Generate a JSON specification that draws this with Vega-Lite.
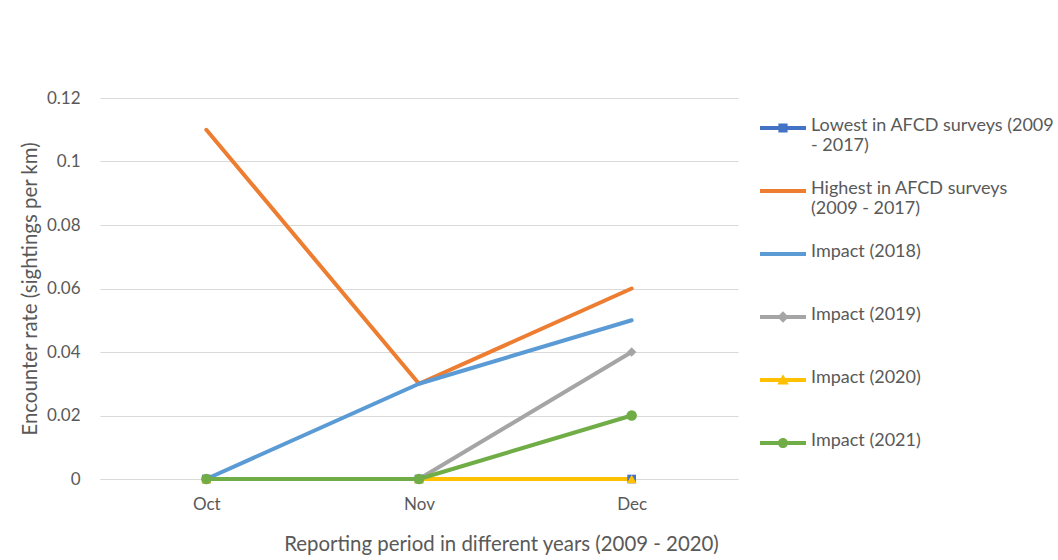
{
  "$schema": "https://vega.github.io/schema/vega-lite/v6.json",
  "autosize": "none",
  "width": 638,
  "height": 381,
  "padding": {"left": 100, "top": 98, "right": 320, "bottom": 81},
  "background": "white",
  "config": {
    "view": {"stroke": null},
    "font": "Lato",
    "axis": {"labelFont": "Lato", "titleFont": "Lato", "labelColor": "#595959", "titleColor": "#595959", "labelFontSize": 17, "titleFontSize": 20.4, "titleFontWeight": "normal"}
  },
  "data": {
    "values": [
      {"series": "Lowest in AFCD surveys (2009 - 2017)", "month": "Oct", "value": 0},
      {"series": "Lowest in AFCD surveys (2009 - 2017)", "month": "Nov", "value": 0},
      {"series": "Lowest in AFCD surveys (2009 - 2017)", "month": "Dec", "value": 0},
      {"series": "Highest in AFCD surveys (2009 - 2017)", "month": "Oct", "value": 0.11},
      {"series": "Highest in AFCD surveys (2009 - 2017)", "month": "Nov", "value": 0.03},
      {"series": "Highest in AFCD surveys (2009 - 2017)", "month": "Dec", "value": 0.06},
      {"series": "Impact (2018)", "month": "Oct", "value": 0},
      {"series": "Impact (2018)", "month": "Nov", "value": 0.03},
      {"series": "Impact (2018)", "month": "Dec", "value": 0.05},
      {"series": "Impact (2019)", "month": "Oct", "value": 0},
      {"series": "Impact (2019)", "month": "Nov", "value": 0},
      {"series": "Impact (2019)", "month": "Dec", "value": 0.04},
      {"series": "Impact (2020)", "month": "Oct", "value": 0},
      {"series": "Impact (2020)", "month": "Nov", "value": 0},
      {"series": "Impact (2020)", "month": "Dec", "value": 0},
      {"series": "Impact (2021)", "month": "Oct", "value": 0},
      {"series": "Impact (2021)", "month": "Nov", "value": 0},
      {"series": "Impact (2021)", "month": "Dec", "value": 0.02}
    ]
  },
  "encoding": {
    "x": {
      "field": "month", "type": "nominal", "sort": ["Oct", "Nov", "Dec"],
      "scale": {"type": "point", "padding": 0.5},
      "axis": {
        "title": "Reporting period in different years (2009 - 2020)",
        "labelAngle": 0, "ticks": false, "grid": false,
        "domainColor": "#D9D9D9", "domainWidth": 1,
        "labelPadding": 17,
        "titleX": 401, "titleY": 55, "titleAlign": "center", "titleAnchor": null
      }
    },
    "y": {
      "field": "value", "type": "quantitative",
      "scale": {"domain": [0, 0.12], "nice": false},
      "axis": {
        "title": "Encounter rate (sightings per km)",
        "values": [0, 0.02, 0.04, 0.06, 0.08, 0.1, 0.12],
        "labelExpr": "datum.value == 0 ? '0' : format(datum.value, '.2~f')",
        "domain": false, "ticks": false, "gridColor": "#D9D9D9", "gridWidth": 1,
        "labelPadding": 20, "titleX": -70, "titleBaseline": "middle"
      }
    },
    "color": {
      "field": "series", "type": "nominal",
      "scale": {
        "domain": ["Lowest in AFCD surveys (2009 - 2017)", "Highest in AFCD surveys (2009 - 2017)", "Impact (2018)", "Impact (2019)", "Impact (2020)", "Impact (2021)"],
        "range": ["#4472C4", "#ED7D31", "#5B9BD5", "#A5A5A5", "#FFC000", "#70AD47"]
      },
      "legend": {
        "title": null,
        "orient": "none", "legendX": 660, "legendY": 7,
        "symbolSize": 2116,
        "labelFont": "Lato", "labelFontSize": 18, "labelColor": "#595959", "labelLimit": 400,
        "labelOffset": 5, "rowPadding": 13,
        "labelExpr": "datum.label == 'Lowest in AFCD surveys (2009 - 2017)' ? ['Lowest in AFCD surveys (2009', '- 2017)'] : datum.label == 'Highest in AFCD surveys (2009 - 2017)' ? ['Highest in AFCD surveys', '(2009 - 2017)'] : [datum.label, ' ']",
        "encode": {
          "symbols": {
            "update": {
              "fill": {"scale": "color", "field": "value"},
              "stroke": {"value": "transparent"},
              "strokeWidth": {"value": 0},
              "fillOpacity": {"value": 1},
              "shape": {"signal": "datum.value == 'Lowest in AFCD surveys (2009 - 2017)' ? 'M-1,-0.09L1,-0.09L1,0.09L-1,0.09Z M-0.2,-0.2L0.2,-0.2L0.2,0.2L-0.2,0.2Z' : datum.value == 'Impact (2019)' ? 'M-1,-0.09L1,-0.09L1,0.09L-1,0.09Z M0,-0.25L0.25,0L0,0.25L-0.25,0Z' : datum.value == 'Impact (2020)' ? 'M-1,-0.09L1,-0.09L1,0.09L-1,0.09Z M0,-0.25L0.25,0.2L-0.25,0.2Z' : datum.value == 'Impact (2021)' ? 'M-1,-0.09L1,-0.09L1,0.09L-1,0.09Z M0.22,0A0.22,0.22,0,1,1,-0.22,0A0.22,0.22,0,1,1,0.22,0Z' : 'M-1,-0.09L1,-0.09L1,0.09L-1,0.09Z'"}
            }
          },
          "labels": {
            "update": {"baseline": {"value": "top"}, "dy": {"value": -11}}
          }
        }
      }
    }
  },
  "layer": [
    {
      "mark": {"type": "line", "strokeWidth": 4, "strokeCap": "round", "strokeJoin": "round"}
    },
    {
      "transform": [{"filter": "datum.series == 'Lowest in AFCD surveys (2009 - 2017)' || datum.series == 'Impact (2019)' || datum.series == 'Impact (2020)' || datum.series == 'Impact (2021)'"}],
      "mark": {"type": "point", "filled": true, "opacity": 1},
      "encoding": {
        "shape": {
          "field": "series", "type": "nominal",
          "scale": {
            "domain": ["Lowest in AFCD surveys (2009 - 2017)", "Impact (2019)", "Impact (2020)", "Impact (2021)"],
            "range": ["square", "diamond", "triangle-up", "circle"]
          },
          "legend": null
        },
        "size": {
          "field": "series", "type": "nominal",
          "scale": {
            "domain": ["Lowest in AFCD surveys (2009 - 2017)", "Impact (2019)", "Impact (2020)", "Impact (2021)"],
            "range": [75, 110, 110, 130]
          },
          "legend": null
        }
      }
    }
  ]
}
